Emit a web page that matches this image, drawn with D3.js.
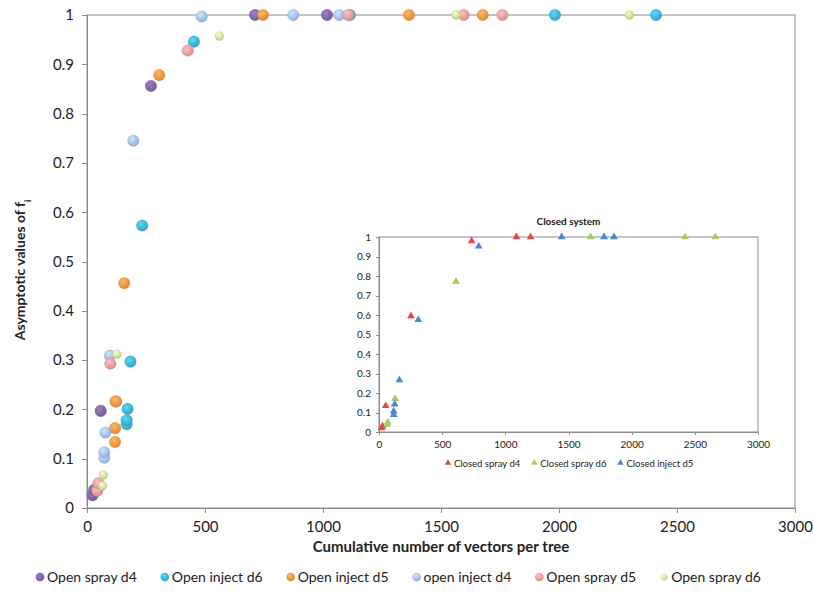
<!DOCTYPE html>
<html>
<head>
<meta charset="utf-8">
<script src="https://cdn.jsdelivr.net/npm/d3@7"></script>
<style>
body { margin: 0; background: white; }
text { font-family: Lato, "Open Sans", sans-serif; fill: #222; }
.axis path, .axis line { stroke: #8c8c8c; shape-rendering: crispEdges; }
.axis text { font-size: 15px; fill: #222; }
.inset .axis text { font-size: 10px; }
</style>
</head>
<body>
<script>
// main chart series, [vectors per tree, asymptotic f]
const openSprayD4 = [[24, 0.026], [30, 0.037], [58, 0.197], [271, 0.856], [712, 1], [1017, 1]];
const openInjectD6 = [[168, 0.170], [168, 0.178], [172, 0.201], [184, 0.297], [234, 0.573], [453, 0.946], [1114, 1], [1983, 1], [2411, 1]];
const openInjectD5 = [[119, 0.134], [119, 0.162], [121, 0.216], [124, 0.216], [158, 0.456], [306, 0.878], [746, 1], [1364, 1], [1677, 1]];
const openInjectD4 = [[73, 0.102], [73, 0.113], [78, 0.153], [97, 0.309], [196, 0.745], [486, 0.997], [874, 1], [1069, 1]];
const openSprayD5 = [[44, 0.035], [48, 0.050], [99, 0.293], [427, 0.928], [1107, 1], [1596, 1], [1760, 1]];
const openSprayD6 = [[66, 0.045], [69, 0.067], [127, 0.312], [561, 0.957], [1564, 1], [2298, 1]];

// inset (closed system)
const closedSprayD4 = [[20, 0.02], [28, 0.03], [53, 0.134], [253, 0.595], [733, 0.979], [1087, 1], [1200, 1]];
const closedSprayD6 = [[66, 0.038], [69, 0.05], [127, 0.171], [609, 0.772], [1675, 1], [2422, 1], [2662, 1]];
const closedInjectD5 = [[116, 0.089], [116, 0.106], [124, 0.142], [161, 0.266], [311, 0.575], [789, 0.952], [1446, 1], [1781, 1], [1860, 1]];

const xTicks = [0, 500, 1000, 1500, 2000, 2500, 3000];
const yTicks = [0, 0.1, 0.2, 0.3, 0.4, 0.5, 0.6, 0.7, 0.8, 0.9, 1];

const openSeries = [
  {name: "Open spray d4", data: openSprayD4, color: "#8064a2", r: 5.8},
  {name: "Open inject d6", data: openInjectD6, color: "#3fb3d6", r: 5.8},
  {name: "Open inject d5", data: openInjectD5, color: "#f79646", r: 5.8},
  {name: "open inject d4", data: openInjectD4, color: "#a3bdf0", r: 5.8},
  {name: "Open spray d5", data: openSprayD5, color: "#ef9c9f", r: 5.8},
  {name: "Open spray d6", data: openSprayD6, color: "#cfe79e", r: 4.5}
];
const closedSeries = [
  {name: "Closed spray d4", data: closedSprayD4, color: "#e04a4e"},
  {name: "Closed spray d6", data: closedSprayD6, color: "#a6cc5c"},
  {name: "Closed inject d5", data: closedInjectD5, color: "#4a85d6"}
];

const W = 813, H = 600;
const svg = d3.select("body").append("svg").attr("width", W).attr("height", H);
const defs = svg.append("defs");

// glossy marker gradients
openSeries.forEach((s, i) => {
  const c = d3.color(s.color);
  const g = defs.append("radialGradient").attr("id", "grad" + i)
    .attr("cx", "40%").attr("cy", "35%").attr("r", "65%");
  g.append("stop").attr("offset", "0%").attr("stop-color", c.brighter(0.6));
  g.append("stop").attr("offset", "100%").attr("stop-color", c.darker(0.3));
});

// main plot
const x = d3.scaleLinear().domain([0, 3000]).range([87, 795]);
const y = d3.scaleLinear().domain([0, 1]).range([508, 15]);

svg.append("rect")
   .attr("x", x(0)).attr("y", y(1))
   .attr("width", x(3000) - x(0)).attr("height", y(0) - y(1))
   .attr("fill", "none").attr("stroke", "#8c8c8c");

svg.append("g").attr("class", "axis")
   .attr("transform", `translate(0, ${y(0)})`)
   .call(d3.axisBottom(x).tickValues(xTicks).tickSize(5).tickPadding(8).tickFormat(d3.format("d")));

svg.append("g").attr("class", "axis")
   .attr("transform", `translate(${x(0)}, 0)`)
   .call(d3.axisLeft(y).tickValues(yTicks).tickSize(5).tickPadding(8).tickFormat(d => d === 0 || d === 1 ? d : d.toFixed(1)));

openSeries.forEach((s, i) => {
  svg.append("g").selectAll("circle").data(s.data).enter()
     .append("circle")
     .attr("cx", d => x(d[0]))
     .attr("cy", d => y(d[1]))
     .attr("r", s.r)
     .attr("fill", `url(#grad${i})`)
     .attr("stroke", d3.color(s.color).darker(0.4))
     .attr("stroke-opacity", 0.35)
     .attr("stroke-width", 0.8);
});

svg.append("text")
   .attr("text-anchor", "middle")
   .attr("x", (x(0) + x(3000)) / 2).attr("y", 552)
   .style("font-size", "15px").style("font-weight", "bold")
   .text("Cumulative number of vectors per tree");

const yTitle = svg.append("text")
   .attr("text-anchor", "middle")
   .attr("transform", `translate(25, 270) rotate(-90)`)
   .style("font-size", "14px").style("font-weight", "bold");
yTitle.append("tspan").text("Asymptotic values of f");
yTitle.append("tspan").attr("baseline-shift", "sub").style("font-size", "9px").text("i");

// legend
const legend = svg.append("g").attr("transform", "translate(0, 577)");
let lx = 36;
openSeries.forEach((s, i) => {
  const item = legend.append("g").attr("transform", `translate(${lx}, 0)`);
  item.append("circle").attr("cx", 4).attr("cy", 0).attr("r", s.r * 0.75)
      .attr("fill", `url(#grad${i})`);
  const t = item.append("text").attr("x", 11).attr("y", 5)
      .style("font-size", "14px").text(s.name);
  lx += 11 + t.node().getComputedTextLength() + 24;
});

// inset: closed system
const ix = d3.scaleLinear().domain([0, 3000]).range([379, 758]);
const iy = d3.scaleLinear().domain([0, 1]).range([432, 237]);
const inset = svg.append("g").attr("class", "inset");

inset.append("rect")
     .attr("x", ix(0)).attr("y", iy(1))
     .attr("width", ix(3000) - ix(0)).attr("height", iy(0) - iy(1))
     .attr("fill", "white").attr("stroke", "#8c8c8c");

inset.append("g").attr("class", "axis")
     .attr("transform", `translate(0, ${iy(0)})`)
     .call(d3.axisBottom(ix).tickValues(xTicks).tickSize(3).tickPadding(6).tickFormat(d3.format("d")));

inset.append("g").attr("class", "axis")
     .attr("transform", `translate(${ix(0)}, 0)`)
     .call(d3.axisLeft(iy).tickValues(yTicks).tickSize(3).tickPadding(5).tickFormat(d => d === 0 || d === 1 ? d : d.toFixed(1)));

const tri = d3.symbol().type(d3.symbolTriangle).size(26);
closedSeries.forEach(s => {
  inset.append("g").selectAll("path").data(s.data).enter()
       .append("path")
       .attr("transform", d => `translate(${ix(d[0])}, ${iy(d[1])})`)
       .attr("d", tri)
       .attr("fill", s.color);
});

inset.append("text")
     .attr("text-anchor", "middle")
     .attr("x", (ix(0) + ix(3000)) / 2).attr("y", 225)
     .style("font-size", "10px").style("font-weight", "bold")
     .text("Closed system");

const ilegend = inset.append("g").attr("transform", "translate(0, 464)");
let ilx = 448;
closedSeries.forEach(s => {
  const item = ilegend.append("g").attr("transform", `translate(${ilx}, 0)`);
  item.append("path").attr("transform", "translate(0, -1)")
      .attr("d", d3.symbol().type(d3.symbolTriangle).size(18)).attr("fill", s.color);
  const t = item.append("text").attr("x", 6).attr("y", 3)
      .style("font-size", "9.5px").text(s.name);
  ilx += 6 + t.node().getComputedTextLength() + 14;
});
</script>
</body>
</html>
